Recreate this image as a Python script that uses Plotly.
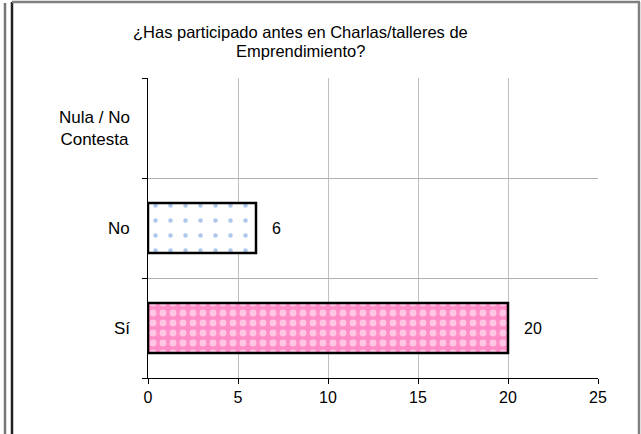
import plotly.graph_objects as go

# data
categories = ["Sí", "No", "Nula / No<br>Contesta"]
values = [20, 6, None]
value_labels = ["20", "6", ""]
x_ticks = [0, 5, 10, 15, 20, 25]
title_lines = ["¿Has participado antes en Charlas/talleres de", "Emprendimiento?"]

FONT = "Liberation Sans, Arial, sans-serif"
FS = 17
pos = list(range(len(categories)))

# pixel -> paper helpers (plot area 148..598 x, 78..378 y)
def px(x):
    return (x - 148) / 450

def py(y):
    return (378 - y) / 300

fig = go.Figure()

# Sí bar: pink with white squares
fig.add_trace(go.Bar(
    y=[pos[0]], x=[values[0]], orientation="h", width=0.5,
    marker=dict(
        color="#ff8cc6",
        line=dict(color="black", width=2.5),
        pattern=dict(shape=".", fgcolor="white", bgcolor="#ff8cc6",
                     size=10, solidity=0.38, fillmode="overlay"),
    ),
    showlegend=False, hoverinfo="x",
))

# No bar: white with blue dots
fig.add_trace(go.Bar(
    y=[pos[1]], x=[values[1]], orientation="h", width=0.5,
    marker=dict(
        color="white",
        line=dict(color="black", width=2.5),
        pattern=dict(shape=".", fgcolor="#5b8fd6", bgcolor="white",
                     size=15, solidity=0.07, fillmode="overlay"),
    ),
    showlegend=False, hoverinfo="x",
))

# value labels
for p, v, lab in zip(pos, values, value_labels):
    if v is None:
        continue
    fig.add_annotation(x=v, y=p, xref="x", yref="y", text=lab, showarrow=False,
                       xanchor="left", xshift=14, font=dict(family=FONT, size=FS - 1, color="black"))

# category labels
for p, cat in zip(pos, categories):
    fig.add_annotation(
        x=0, xref="paper", xshift=-16, y=p, yref="y",
        text=cat, showarrow=False, xanchor="right", yanchor="middle",
        align="center", font=dict(family=FONT, size=FS, color="black"),
    )

# title, two lines
for i, line in enumerate(title_lines):
    fig.add_annotation(
        x=px(300), xref="paper", y=py(32 + 19 * i), yref="paper",
        text=line, showarrow=False, xanchor="center", yanchor="middle",
        font=dict(family=FONT, size=FS - 0.5, color="black"),
    )

# outer frame lines
frame = [
    (5, 5, 434, 3, "#777777"),
    (12, 12, 434, 2, "#222222"),
    (12, 640, 2, 2, "#808080"),
    (639, 639, 434, 2, "#808080"),
]
for x0, x1, y0, y1, c in frame:
    fig.add_shape(type="line", xref="paper", yref="paper",
                  x0=px(x0), x1=px(x1), y0=py(y0), y1=py(y1),
                  line=dict(color=c, width=2.5))

fig.update_layout(
    width=641, height=434,
    margin=dict(l=148, r=43, t=78, b=56),
    paper_bgcolor="white", plot_bgcolor="white",
    font=dict(family=FONT, size=FS, color="black"),
    xaxis=dict(
        range=[0, 25], tickvals=x_ticks, ticks="outside", ticklen=5,
        tickcolor="black", showline=True, linecolor="black", linewidth=1,
        showgrid=True, gridcolor="#c0c0c0", gridwidth=1, zeroline=False,
        tickfont=dict(family=FONT, size=FS - 1, color="black"),
    ),
    yaxis=dict(
        range=[-0.5, 2.5], tickvals=[-0.5, 0.5, 1.5, 2.5], ticktext=["", "", "", ""],
        ticks="outside", ticklen=5, tickcolor="black",
        showline=True, linecolor="black", linewidth=1,
        showgrid=True, gridcolor="#b0b0b0", gridwidth=1, zeroline=False,
    ),
)

fig.write_html("out.html", config={"displayModeBar": False},
               post_script="document.body.style.margin='0';")
